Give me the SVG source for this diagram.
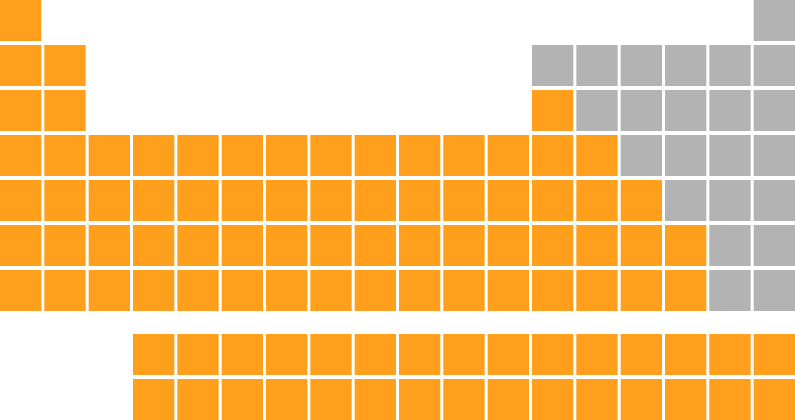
<svg xmlns="http://www.w3.org/2000/svg" width="795" height="420" viewBox="0 0 795 420">
<style>
.m{fill:#FF9F1C}
.n{fill:#B3B3B3}
</style>
<rect width="795" height="420" fill="#FFFFFF"/>
<g id="period1">
<rect id="H" class="m" x="0" y="0" width="41.33" height="41"/>
<rect id="He" class="n" x="753.67" y="0" width="41.33" height="41"/>
</g>
<g id="period2">
<rect id="Li" class="m" x="0" y="45" width="41.33" height="41"/>
<rect id="Be" class="m" x="44.33" y="45" width="41.33" height="41"/>
<rect id="B" class="n" x="532" y="45" width="41.33" height="41"/>
<rect id="C" class="n" x="576.33" y="45" width="41.33" height="41"/>
<rect id="N" class="n" x="620.67" y="45" width="41.33" height="41"/>
<rect id="O" class="n" x="665" y="45" width="41.33" height="41"/>
<rect id="F" class="n" x="709.33" y="45" width="41.33" height="41"/>
<rect id="Ne" class="n" x="753.67" y="45" width="41.33" height="41"/>
</g>
<g id="period3">
<rect id="Na" class="m" x="0" y="90" width="41.33" height="41"/>
<rect id="Mg" class="m" x="44.33" y="90" width="41.33" height="41"/>
<rect id="Al" class="m" x="532" y="90" width="41.33" height="41"/>
<rect id="Si" class="n" x="576.33" y="90" width="41.33" height="41"/>
<rect id="P" class="n" x="620.67" y="90" width="41.33" height="41"/>
<rect id="S" class="n" x="665" y="90" width="41.33" height="41"/>
<rect id="Cl" class="n" x="709.33" y="90" width="41.33" height="41"/>
<rect id="Ar" class="n" x="753.67" y="90" width="41.33" height="41"/>
</g>
<g id="period4">
<rect id="K" class="m" x="0" y="135" width="41.33" height="41"/>
<rect id="Ca" class="m" x="44.33" y="135" width="41.33" height="41"/>
<rect id="Sc" class="m" x="88.67" y="135" width="41.33" height="41"/>
<rect id="Ti" class="m" x="133" y="135" width="41.33" height="41"/>
<rect id="V" class="m" x="177.33" y="135" width="41.33" height="41"/>
<rect id="Cr" class="m" x="221.67" y="135" width="41.33" height="41"/>
<rect id="Mn" class="m" x="266" y="135" width="41.33" height="41"/>
<rect id="Fe" class="m" x="310.33" y="135" width="41.33" height="41"/>
<rect id="Co" class="m" x="354.67" y="135" width="41.33" height="41"/>
<rect id="Ni" class="m" x="399" y="135" width="41.33" height="41"/>
<rect id="Cu" class="m" x="443.33" y="135" width="41.33" height="41"/>
<rect id="Zn" class="m" x="487.67" y="135" width="41.33" height="41"/>
<rect id="Ga" class="m" x="532" y="135" width="41.33" height="41"/>
<rect id="Ge" class="m" x="576.33" y="135" width="41.33" height="41"/>
<rect id="As" class="n" x="620.67" y="135" width="41.33" height="41"/>
<rect id="Se" class="n" x="665" y="135" width="41.33" height="41"/>
<rect id="Br" class="n" x="709.33" y="135" width="41.33" height="41"/>
<rect id="Kr" class="n" x="753.67" y="135" width="41.33" height="41"/>
</g>
<g id="period5">
<rect id="Rb" class="m" x="0" y="180" width="41.33" height="41"/>
<rect id="Sr" class="m" x="44.33" y="180" width="41.33" height="41"/>
<rect id="Y" class="m" x="88.67" y="180" width="41.33" height="41"/>
<rect id="Zr" class="m" x="133" y="180" width="41.33" height="41"/>
<rect id="Nb" class="m" x="177.33" y="180" width="41.33" height="41"/>
<rect id="Mo" class="m" x="221.67" y="180" width="41.33" height="41"/>
<rect id="Tc" class="m" x="266" y="180" width="41.33" height="41"/>
<rect id="Ru" class="m" x="310.33" y="180" width="41.33" height="41"/>
<rect id="Rh" class="m" x="354.67" y="180" width="41.33" height="41"/>
<rect id="Pd" class="m" x="399" y="180" width="41.33" height="41"/>
<rect id="Ag" class="m" x="443.33" y="180" width="41.33" height="41"/>
<rect id="Cd" class="m" x="487.67" y="180" width="41.33" height="41"/>
<rect id="In" class="m" x="532" y="180" width="41.33" height="41"/>
<rect id="Sn" class="m" x="576.33" y="180" width="41.33" height="41"/>
<rect id="Sb" class="m" x="620.67" y="180" width="41.33" height="41"/>
<rect id="Te" class="n" x="665" y="180" width="41.33" height="41"/>
<rect id="I" class="n" x="709.33" y="180" width="41.33" height="41"/>
<rect id="Xe" class="n" x="753.67" y="180" width="41.33" height="41"/>
</g>
<g id="period6">
<rect id="Cs" class="m" x="0" y="225" width="41.33" height="41"/>
<rect id="Ba" class="m" x="44.33" y="225" width="41.33" height="41"/>
<rect id="Ln-slot" class="m" x="88.67" y="225" width="41.33" height="41"/>
<rect id="Hf" class="m" x="133" y="225" width="41.33" height="41"/>
<rect id="Ta" class="m" x="177.33" y="225" width="41.33" height="41"/>
<rect id="W" class="m" x="221.67" y="225" width="41.33" height="41"/>
<rect id="Re" class="m" x="266" y="225" width="41.33" height="41"/>
<rect id="Os" class="m" x="310.33" y="225" width="41.33" height="41"/>
<rect id="Ir" class="m" x="354.67" y="225" width="41.33" height="41"/>
<rect id="Pt" class="m" x="399" y="225" width="41.33" height="41"/>
<rect id="Au" class="m" x="443.33" y="225" width="41.33" height="41"/>
<rect id="Hg" class="m" x="487.67" y="225" width="41.33" height="41"/>
<rect id="Tl" class="m" x="532" y="225" width="41.33" height="41"/>
<rect id="Pb" class="m" x="576.33" y="225" width="41.33" height="41"/>
<rect id="Bi" class="m" x="620.67" y="225" width="41.33" height="41"/>
<rect id="Po" class="m" x="665" y="225" width="41.33" height="41"/>
<rect id="At" class="n" x="709.33" y="225" width="41.33" height="41"/>
<rect id="Rn" class="n" x="753.67" y="225" width="41.33" height="41"/>
</g>
<g id="period7">
<rect id="Fr" class="m" x="0" y="270" width="41.33" height="41"/>
<rect id="Ra" class="m" x="44.33" y="270" width="41.33" height="41"/>
<rect id="An-slot" class="m" x="88.67" y="270" width="41.33" height="41"/>
<rect id="Rf" class="m" x="133" y="270" width="41.33" height="41"/>
<rect id="Db" class="m" x="177.33" y="270" width="41.33" height="41"/>
<rect id="Sg" class="m" x="221.67" y="270" width="41.33" height="41"/>
<rect id="Bh" class="m" x="266" y="270" width="41.33" height="41"/>
<rect id="Hs" class="m" x="310.33" y="270" width="41.33" height="41"/>
<rect id="Mt" class="m" x="354.67" y="270" width="41.33" height="41"/>
<rect id="Ds" class="m" x="399" y="270" width="41.33" height="41"/>
<rect id="Rg" class="m" x="443.33" y="270" width="41.33" height="41"/>
<rect id="Cn" class="m" x="487.67" y="270" width="41.33" height="41"/>
<rect id="Nh" class="m" x="532" y="270" width="41.33" height="41"/>
<rect id="Fl" class="m" x="576.33" y="270" width="41.33" height="41"/>
<rect id="Mc" class="m" x="620.67" y="270" width="41.33" height="41"/>
<rect id="Lv" class="m" x="665" y="270" width="41.33" height="41"/>
<rect id="Ts" class="n" x="709.33" y="270" width="41.33" height="41"/>
<rect id="Og" class="n" x="753.67" y="270" width="41.33" height="41"/>
</g>
<g id="lanthanides">
<rect id="La" class="m" x="133" y="334" width="41.33" height="41"/>
<rect id="Ce" class="m" x="177.33" y="334" width="41.33" height="41"/>
<rect id="Pr" class="m" x="221.67" y="334" width="41.33" height="41"/>
<rect id="Nd" class="m" x="266" y="334" width="41.33" height="41"/>
<rect id="Pm" class="m" x="310.33" y="334" width="41.33" height="41"/>
<rect id="Sm" class="m" x="354.67" y="334" width="41.33" height="41"/>
<rect id="Eu" class="m" x="399" y="334" width="41.33" height="41"/>
<rect id="Gd" class="m" x="443.33" y="334" width="41.33" height="41"/>
<rect id="Tb" class="m" x="487.67" y="334" width="41.33" height="41"/>
<rect id="Dy" class="m" x="532" y="334" width="41.33" height="41"/>
<rect id="Ho" class="m" x="576.33" y="334" width="41.33" height="41"/>
<rect id="Er" class="m" x="620.67" y="334" width="41.33" height="41"/>
<rect id="Tm" class="m" x="665" y="334" width="41.33" height="41"/>
<rect id="Yb" class="m" x="709.33" y="334" width="41.33" height="41"/>
<rect id="Lu" class="m" x="753.67" y="334" width="41.33" height="41"/>
</g>
<g id="actinides">
<rect id="Ac" class="m" x="133" y="379" width="41.33" height="41"/>
<rect id="Th" class="m" x="177.33" y="379" width="41.33" height="41"/>
<rect id="Pa" class="m" x="221.67" y="379" width="41.33" height="41"/>
<rect id="U" class="m" x="266" y="379" width="41.33" height="41"/>
<rect id="Np" class="m" x="310.33" y="379" width="41.33" height="41"/>
<rect id="Pu" class="m" x="354.67" y="379" width="41.33" height="41"/>
<rect id="Am" class="m" x="399" y="379" width="41.33" height="41"/>
<rect id="Cm" class="m" x="443.33" y="379" width="41.33" height="41"/>
<rect id="Bk" class="m" x="487.67" y="379" width="41.33" height="41"/>
<rect id="Cf" class="m" x="532" y="379" width="41.33" height="41"/>
<rect id="Es" class="m" x="576.33" y="379" width="41.33" height="41"/>
<rect id="Fm" class="m" x="620.67" y="379" width="41.33" height="41"/>
<rect id="Md" class="m" x="665" y="379" width="41.33" height="41"/>
<rect id="No" class="m" x="709.33" y="379" width="41.33" height="41"/>
<rect id="Lr" class="m" x="753.67" y="379" width="41.33" height="41"/>
</g>
</svg>
